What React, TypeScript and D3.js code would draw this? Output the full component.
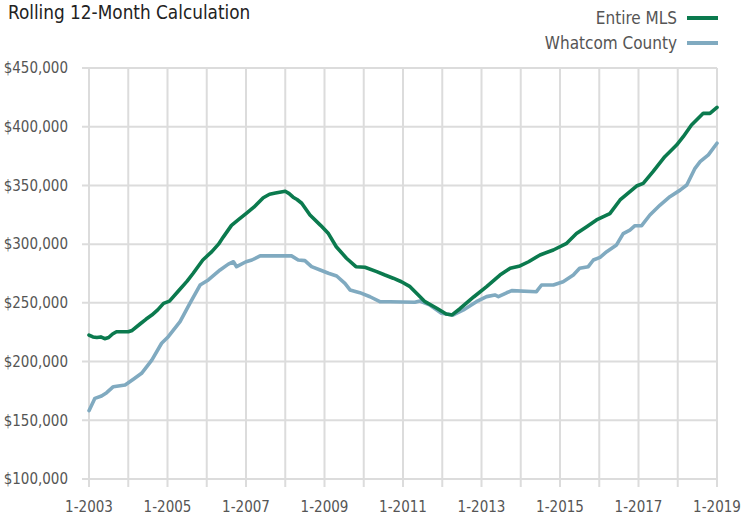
import React from "react";
import * as d3 from "d3";

const title = "Rolling 12-Month Calculation";
const seriesNames = ["Entire MLS", "Whatcom County"];
const seriesColors = ["#0b7a4e", "#80aac0"];
const yTicks = [100000, 150000, 200000, 250000, 300000, 350000, 400000, 450000];
const xLabelYears = [2003, 2005, 2007, 2009, 2011, 2013, 2015, 2017, 2019];
const gridYears = d3.range(2003, 2020);

// [decimal year, value in $k]
const mlsPoints: [number, number][] = [
  [2003.0, 222.6], [2003.1, 221], [2003.2, 220.5], [2003.3, 221], [2003.4, 219.5], [2003.5, 220.5],
  [2003.6, 223.5], [2003.7, 225.4], [2004.0, 225.4], [2004.1, 226.5], [2004.3, 232], [2004.45, 236],
  [2004.6, 239.6], [2004.75, 244], [2004.9, 249.6], [2005.05, 251.5], [2005.3, 261], [2005.5, 268.5],
  [2005.65, 275], [2005.9, 286.5], [2006.13, 293.6], [2006.3, 300], [2006.42, 306], [2006.63, 316],
  [2006.8, 320.6], [2007.0, 326], [2007.2, 331.5], [2007.44, 339.5], [2007.6, 342.5], [2007.75, 343.5],
  [2008.0, 345], [2008.1, 343], [2008.2, 340], [2008.3, 338], [2008.42, 334.8], [2008.63, 324.8],
  [2008.9, 316], [2009.1, 309], [2009.3, 297.8], [2009.56, 288], [2009.8, 280.8], [2010.03, 280.3],
  [2010.33, 276.6], [2010.54, 273.7], [2010.75, 271], [2010.96, 268], [2011.18, 263.8], [2011.39, 256.7],
  [2011.56, 251], [2011.86, 245.4], [2012.1, 240.5], [2012.25, 239.7], [2012.45, 245], [2012.8, 255],
  [2013.13, 263.8], [2013.47, 273.7], [2013.73, 279.4], [2013.98, 281.4], [2014.2, 285], [2014.49, 290.8],
  [2014.83, 295], [2015.17, 300.7], [2015.42, 309], [2015.68, 314.9], [2015.93, 320.6], [2016.27, 326],
  [2016.53, 337.6], [2016.95, 349.5], [2017.12, 351.8], [2017.37, 361.7], [2017.67, 374.5],
  [2017.97, 384.4], [2018.14, 391.5], [2018.35, 401.5], [2018.65, 411.4], [2018.82, 411.4], [2019.0, 416.5],
];

const whatcomPoints: [number, number][] = [
  [2003.0, 158.2], [2003.15, 168.7], [2003.32, 170.7], [2003.45, 173.5], [2003.62, 178.6], [2003.92, 180],
  [2004.13, 184.9], [2004.34, 190], [2004.6, 201.3], [2004.85, 215.6], [2005.02, 221.2], [2005.32, 234],
  [2005.57, 249.6], [2005.83, 265.2], [2006.04, 269.5], [2006.34, 278], [2006.55, 283], [2006.68, 285],
  [2006.76, 280.8], [2007.0, 285], [2007.15, 286.5], [2007.36, 290], [2008.16, 290], [2008.33, 286.5],
  [2008.5, 286], [2008.67, 280.8], [2008.89, 278], [2009.1, 275.2], [2009.31, 272.9], [2009.52, 266.6],
  [2009.65, 261], [2009.9, 258.7], [2010.16, 255.2], [2010.41, 251], [2010.67, 251], [2011.3, 250.5],
  [2011.43, 251.6], [2011.69, 248], [2011.98, 241.1], [2012.28, 239.7], [2012.54, 244], [2012.87, 251],
  [2013.13, 255.3], [2013.34, 256.7], [2013.43, 255.3], [2013.64, 258.6], [2013.77, 260.4], [2014.4, 259.5],
  [2014.53, 265.2], [2014.83, 265.2], [2015.08, 268], [2015.34, 273.7], [2015.5, 279.4], [2015.72, 280.8],
  [2015.85, 286.5], [2016.02, 288.8], [2016.19, 293.6], [2016.44, 299.3], [2016.61, 309], [2016.78, 312],
  [2016.91, 315.7], [2017.08, 315.7], [2017.29, 324.8], [2017.55, 333.3], [2017.8, 340.4], [2018.06, 346],
  [2018.23, 350.4], [2018.44, 364.6], [2018.57, 370.2], [2018.78, 376], [2019.0, 385.9],
];

const W = 741;
const H = 515;
const M = { left: 89, right: 24, top: 68, bottom: 36 };
const FONT = "'Liberation Sans Narrow', 'DejaVu Sans Condensed', 'Liberation Sans', sans-serif";

export default function App() {
  const x = d3.scaleLinear().domain([2003, 2019]).range([M.left, W - M.right]);
  const y = d3.scaleLinear().domain([100000, 450000]).range([H - M.bottom, M.top]);
  const line = d3
    .line<[number, number]>()
    .x((d) => x(d[0]))
    .y((d) => y(d[1] * 1000));
  const fmt = (v: number) => "$" + d3.format(",")(v);
  const series = [mlsPoints, whatcomPoints];

  return (
    <div style={{ position: "absolute", left: 0, top: 0 }}>
      <svg width={W} height={H} style={{ display: "block", fontFamily: FONT }}>
        <rect width={W} height={H} fill="#fff" />
        <text x={8} y={19} fontSize={18.8} fill="#222">{title}</text>
        {seriesNames.map((n, i) => (
          <g key={n}>
            <text x={677} y={24 + i * 25} fontSize={17} fill="#555" textAnchor="end">{n}</text>
            <line x1={687} x2={718} y1={18 + i * 25} y2={18 + i * 25} stroke={seriesColors[i]} strokeWidth={4} />
          </g>
        ))}
        {yTicks.map((t) => (
          <g key={t}>
            <line x1={M.left - 7} x2={W - M.right} y1={y(t)} y2={y(t)} stroke="#dcdcdc" strokeWidth={2} />
            <text x={68} y={y(t)} dy="0.35em" fontSize={15} fill="#555" textAnchor="end">{fmt(t)}</text>
          </g>
        ))}
        {gridYears.map((yr) => (
          <line key={yr} x1={x(yr)} x2={x(yr)} y1={M.top} y2={H - M.bottom + 8} stroke="#dcdcdc" strokeWidth={2} />
        ))}
        {xLabelYears.map((yr) => (
          <text key={yr} x={x(yr)} y={512} fontSize={15} fill="#555" textAnchor="middle">{"1-" + yr}</text>
        ))}
        {series.map((s, i) => (
          <path key={i} d={line(s) || ""} fill="none" stroke={seriesColors[i]} strokeWidth={3.6}
            strokeLinejoin="round" strokeLinecap="round" />
        )).reverse()}
      </svg>
    </div>
  );
}
